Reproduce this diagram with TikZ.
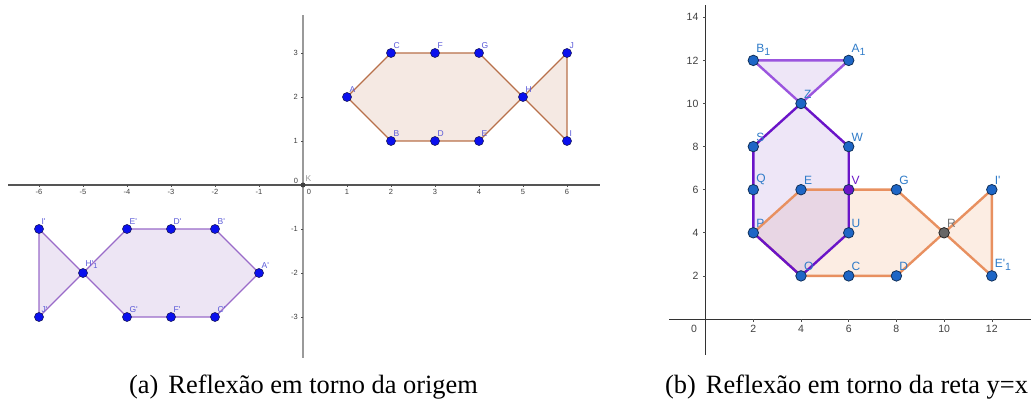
\documentclass[tikz,border=0pt]{standalone}
\usepackage{fontspec}
\setmainfont{Liberation Serif}
\setsansfont{Liberation Sans}
\usetikzlibrary{backgrounds}
\definecolor{cAxA}{HTML}{555555}
\definecolor{cAxAv}{HTML}{9A9A9A}
\definecolor{cFishA}{HTML}{F5E9E3}
\definecolor{cFishAB}{HTML}{B8704A}
\definecolor{cFishB}{HTML}{EDE5F4}
\definecolor{cFishBB}{HTML}{9A6BC9}
\definecolor{cPtA}{HTML}{0A10EE}
\definecolor{cPtAB}{HTML}{1A1A60}
\definecolor{cLblA}{HTML}{5A5AD8}
\definecolor{cOra}{HTML}{E89060}
\definecolor{cOraF}{HTML}{FCEDE3}
\definecolor{cPur}{HTML}{6A14C8}
\definecolor{cPurL}{HTML}{9B55DE}
\definecolor{cPurF}{HTML}{EEE6F7}
\definecolor{cMix}{HTML}{E8D6E4}
\definecolor{cPtB}{HTML}{1E66C6}
\definecolor{cPtBB}{HTML}{10305A}
\definecolor{cLblB}{HTML}{2F7BC8}
\newcommand{\prm}{\textquotesingle}
\newcommand{\sbA}[1]{\raisebox{-0.45ex}{\fontsize{7.5}{8}\selectfont #1}}
\newcommand{\sbB}[1]{\raisebox{-0.45ex}{\fontsize{10.5}{11}\selectfont #1}}

\begin{document}
\begin{tikzpicture}[
  x=1pt, y=1pt,
  axA/.style={draw=cAxA, line width=1.1pt},
  axAv/.style={draw=cAxAv, line width=1.8pt},
  tck/.style={draw=black!70, line width=0.6pt},
  numA/.style={font=\sffamily\fontsize{7.5}{8}\selectfont, text=black!75, inner sep=0pt},
  ptA/.style={circle, draw=cPtAB, fill=cPtA, line width=0.6pt, inner sep=0pt,
              minimum size=9pt, label distance=3pt},
  lblA/.style={font=\sffamily\fontsize{8.5}{9}\selectfont, text=cLblA, inner sep=0pt},
  lblK/.style={lblA, text=black!40},
  fishA/.style={draw=cFishAB, fill=cFishA, line width=1.2pt, line join=round},
  fishB/.style={draw=cFishBB, fill=cFishB, line width=1.2pt, line join=round},
  axB/.style={draw=black!80, line width=0.9pt},
  numB/.style={font=\sffamily\fontsize{10.5}{11}\selectfont, text=black!75, inner sep=0pt},
  ptB/.style={circle, draw=cPtBB, fill=cPtB, line width=0.8pt, inner sep=0pt,
              minimum size=10.5pt, label distance=6pt},
  lblB/.style={font=\sffamily\fontsize{12}{12}\selectfont, text=cLblB, inner sep=0pt},
  edgeO/.style={draw=cOra, line width=2.4pt, line join=round},
  edgeP/.style={draw=cPur, line width=2.4pt, line join=round},
  capt/.style={font=\fontsize{26.4}{30}\selectfont, inner sep=0pt, anchor=base}
]
\useasboundingbox (0,0) rectangle (1032,399);

% PANEL (a): reflection about the origin
\begin{scope}[shift={(303pt,214pt)}, x=44pt, y=44pt]
\coordinate (xa0) at (-6.7,0);
\coordinate (xa1) at (6.75,0);
\coordinate (ya0) at (0,-3.93);
\coordinate (ya1) at (0,3.86);
\draw[axA] (xa0) -- (xa1);
\draw[axAv] (ya0) -- (ya1);
\foreach \t in {-6,-5,-4,-3,-2,-1,1,2,3,4,5,6} {
  \draw[tck] (\t,0) -- ([yshift=-2pt]\t,0);
  \node[numA] (xt\t) at ([yshift=-7pt]\t,0) {\t};
}
\foreach \t in {-3,-2,-1,1,2,3} {
  \draw[tck] (0,\t) -- ([xshift=-2.5pt]0,\t);
  \node[numA, anchor=east] (yt\t) at ([xshift=-5pt]0,\t) {\t};
}
\node[numA] (xz) at ([shift={(6pt,-7pt)}]0,0) {0};
\node[numA] (yz) at ([shift={(-7pt,4pt)}]0,0) {0};
\node[circle, fill=black!75, inner sep=0pt, minimum size=5pt,
      label={[lblK, label distance=1pt]50:K}] (K) at (0,0) {};

\node[ptA, label={[lblA]60:A}] (A) at (1,2) {};
\node[ptA, label={[lblA]60:B}] (B) at (2,1) {};
\node[ptA, label={[lblA]60:C}] (C) at (2,3) {};
\node[ptA, label={[lblA]60:D}] (D) at (3,1) {};
\node[ptA, label={[lblA]60:E}] (E) at (4,1) {};
\node[ptA, label={[lblA]60:F}] (F) at (3,3) {};
\node[ptA, label={[lblA]60:G}] (G) at (4,3) {};
\node[ptA, label={[lblA]60:H}] (H) at (5,2) {};
\node[ptA, label={[lblA]60:I}] (I) at (6,1) {};
\node[ptA, label={[lblA]60:J}] (J) at (6,3) {};

\node[ptA, label={[lblA]60:A\prm}] (Ap) at (-1,-2) {};
\node[ptA, label={[lblA]60:B\prm}] (Bp) at (-2,-1) {};
\node[ptA, label={[lblA]60:C\prm}] (Cp) at (-2,-3) {};
\node[ptA, label={[lblA]60:D\prm}] (Dp) at (-3,-1) {};
\node[ptA, label={[lblA]60:E\prm}] (Ep) at (-4,-1) {};
\node[ptA, label={[lblA]60:F\prm}] (Fp) at (-3,-3) {};
\node[ptA, label={[lblA]60:G\prm}] (Gp) at (-4,-3) {};
\node[ptA, label={[lblA]60:H\prm\sbA{1}}] (H1p) at (-5,-2) {};
\node[ptA, label={[lblA]60:I\prm}] (Ip) at (-6,-1) {};
\node[ptA, label={[lblA]60:J\prm}] (Jp) at (-6,-3) {};

\begin{scope}[on background layer]
\draw[fishA] (A.center) -- (C.center) -- (F.center) -- (G.center) -- (H.center)
  -- (E.center) -- (D.center) -- (B.center) -- cycle;
\draw[fishA] (H.center) -- (J.center) -- (I.center) -- cycle;
\draw[fishB] (Ap.center) -- (Bp.center) -- (Dp.center) -- (Ep.center) -- (H1p.center)
  -- (Gp.center) -- (Fp.center) -- (Cp.center) -- cycle;
\draw[fishB] (H1p.center) -- (Ip.center) -- (Jp.center) -- cycle;
\end{scope}
\end{scope}

% PANEL (b): reflection about y=x
\begin{scope}[shift={(705.6pt,80pt)}, x=23.85pt, y=21.55pt]
\coordinate (xb0) at (-1.53,0);
\coordinate (xb1) at (13.64,0);
\coordinate (yb0) at (0,-1.67);
\coordinate (yb1) at (0,14.57);
\draw[axB] (xb0) -- (xb1);
\draw[axB] (yb0) -- (yb1);
\foreach \t in {2,4,6,8,10,12} {
  \draw[tck] (\t,0) -- ([yshift=-2.5pt]\t,0);
  \node[numB] (xu\t) at ([yshift=-10pt]\t,0) {\t};
}
\foreach \t in {2,4,6,8,10,12,14} {
  \draw[tck] (0,\t) -- ([xshift=-3pt]0,\t);
  \node[numB, anchor=east] (yu\t) at ([xshift=-7pt]0,\t) {\t};
}
\node[numB] (zb) at ([shift={(-11.5pt,-10pt)}]0,0) {0};

\node[ptB, label={[lblB]60:B\sbB{1}}] (rB1) at (2,12) {};
\node[ptB, label={[lblB]60:A\sbB{1}}] (rA1) at (6,12) {};
\node[ptB, label={[lblB]60:Z}] (rZ) at (4,10) {};
\node[ptB, label={[lblB]60:S}] (rS) at (2,8) {};
\node[ptB, label={[lblB]60:W}] (rW) at (6,8) {};
\node[ptB, label={[lblB]60:Q}] (rQ) at (2,6) {};
\node[ptB, label={[lblB]60:E}] (rE) at (4,6) {};
\node[ptB, fill=cPur, label={[lblB, text=cPur]60:V}] (rV) at (6,6) {};
\node[ptB, label={[lblB]60:G}] (rG) at (8,6) {};
\node[ptB, label={[lblB]60:I\prm}] (rIp) at (12,6) {};
\node[ptB, label={[lblB]60:P}] (rP) at (2,4) {};
\node[ptB, label={[lblB]60:U}] (rU) at (6,4) {};
\node[ptB, fill=black!60, draw=black!85, label={[lblB, text=black!55]60:R}] (rR) at (10,4) {};
\node[ptB, label={[lblB]60:O}] (rO) at (4,2) {};
\node[ptB, label={[lblB]60:C}] (rC) at (6,2) {};
\node[ptB, label={[lblB]60:D}] (rD) at (8,2) {};
\node[ptB, label={[lblB]60:E\prm\sbB{1}}] (rE1) at (12,2) {};

\begin{scope}[on background layer]
\fill[cOraF] (rP.center) -- (rE.center) -- (rV.center) -- (rG.center) -- (rR.center)
  -- (rD.center) -- (rC.center) -- (rO.center) -- cycle;
\fill[cOraF] (rR.center) -- (rIp.center) -- (rE1.center) -- cycle;
\fill[cPurF] (rS.center) -- (rZ.center) -- (rW.center) -- (rV.center) -- (rU.center)
  -- (rO.center) -- (rP.center) -- (rQ.center) -- cycle;
\fill[cPurF] (rZ.center) -- (rB1.center) -- (rA1.center) -- cycle;
\fill[cMix] (rP.center) -- (rE.center) -- (rV.center) -- (rU.center) -- (rO.center) -- cycle;
\draw[edgeO] (rP.center) -- (rE.center) -- (rV.center) -- (rG.center) -- (rR.center)
  -- (rD.center) -- (rC.center) -- (rO.center) -- cycle;
\draw[edgeO] (rR.center) -- (rIp.center) -- (rE1.center) -- cycle;
\draw[edgeP] (rS.center) -- (rZ.center) -- (rW.center) -- (rV.center) -- (rU.center)
  -- (rO.center) -- (rP.center) -- (rQ.center) -- cycle;
\draw[edgeP, draw=cPurL] (rZ.center) -- (rB1.center) -- (rA1.center) -- cycle;
\end{scope}
\end{scope}

% CAPTIONS
\node[capt] (capa) at (303.5,6) {(a)\hspace{0.38em}Reflexão em torno da origem};
\node[capt] (capb) at (846.5,6) {(b)\hspace{0.38em}Reflexão em torno da reta y=x};

\end{tikzpicture}
\end{document}
